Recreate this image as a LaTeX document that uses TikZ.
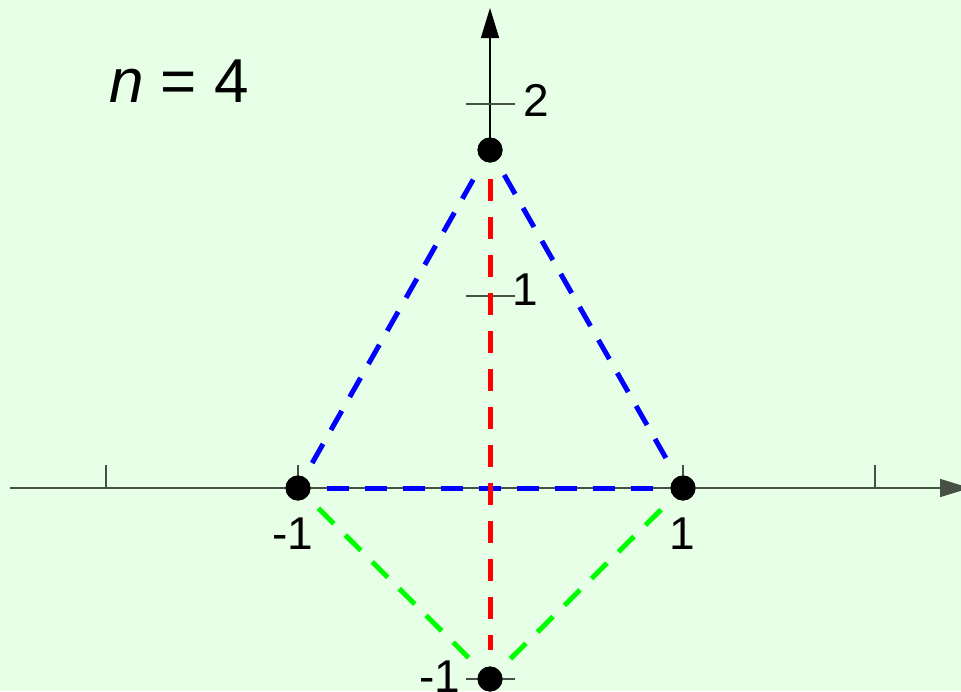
\documentclass[tikz,border=0pt]{standalone}
\usepackage{fontspec}
\setmainfont{Liberation Sans}
\usetikzlibrary{arrows.meta}
\definecolor{bg}{RGB}{230,255,230}
\definecolor{axisgray}{RGB}{70,80,70}
\definecolor{lgreen}{RGB}{0,255,0}
\tikzset{
  dot/.style={circle,fill=black,inner sep=0pt,minimum size=25pt},
  conn/.style={line width=5pt,dash pattern=on 22pt off 16pt,shorten <=16pt,shorten >=16pt},
  axisline/.style={line width=1.5pt},
  tickline/.style={line width=1.5pt,draw=axisgray},
  lbl/.style={font=\fontsize{46}{50}\selectfont,inner sep=0pt},
}
\begin{document}
\begin{tikzpicture}[x=1pt,y=-1pt]
\fill[bg] (0,0) rectangle (961,691);
\clip (0,0) rectangle (961,691);
% points
\node[dot] (A) at (298,488) {};
\node[dot] (B) at (683,488) {};
\node[dot] (T) at (490,150) {};
\node[dot] (D) at (490,679) {};
% axes
\coordinate (xs) at (10,488);
\coordinate (xe) at (970,488);
\coordinate (ye) at (490,8);
\draw[axisline,draw=axisgray,-{Triangle[length=30pt,width=18pt]}] (xs) -- (xe);
\draw[axisline,draw=black,-{Triangle[length=30pt,width=18pt]}] (T.center) -- (ye);
% ticks
\foreach \x in {106,298,683,875} \draw[tickline] (\x,488) -- (\x,465);
\foreach \y in {104,296,679} \draw[tickline] (466,\y) -- (515,\y);
% redraw dots above axes
\node[dot] at (A) {};
\node[dot] at (B) {};
\node[dot] at (T) {};
\node[dot] at (D) {};
% connectors
\draw[conn,blue] (A) -- (T);
\draw[conn,blue] (T) -- (B);
\draw[conn,blue] (A) -- (B);
\draw[conn,red] (T) -- (D);
\draw[conn,lgreen] (A) -- (D);
\draw[conn,lgreen] (D) -- (B);
% labels
\node[lbl] (l2) at (536,100) {2};
\node[lbl] (l1) at (525,290) {1};
\node[lbl] (lm1x) at (293,534) {-1};
\node[lbl] (l1x) at (682,534) {1};
\node[lbl] (lm1y) at (440,677) {-1};
\node[inner sep=0pt,font=\fontsize{62}{66}\selectfont] (n) at (179,81) {\textit{n} = 4};
\end{tikzpicture}
\end{document}
